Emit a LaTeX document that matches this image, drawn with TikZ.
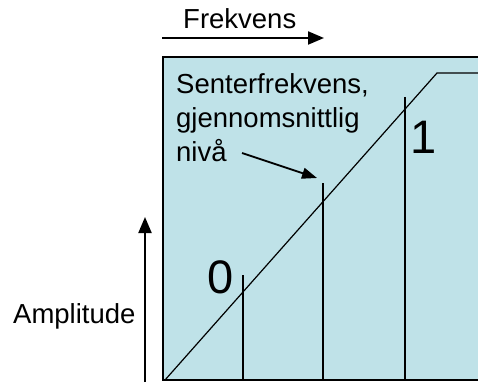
\documentclass[tikz,border=0pt]{standalone}
\usepackage{fontspec}
\setmainfont{Liberation Sans}
\usetikzlibrary{arrows.meta}
\definecolor{panel}{RGB}{191,226,232}
\tikzset{
  lbl/.style={inner sep=0pt, anchor=base west, font=\fontsize{27.5}{33}\selectfont},
  big/.style={inner sep=0pt, anchor=center, font=\fontsize{47}{50}\selectfont},
  thinline/.style={line width=1.6pt},
  arr/.style={line width=2pt, -{Triangle[length=16pt,width=13pt]}},
  ptr/.style={line width=1.8pt, -{Triangle[length=15pt,width=11pt]}}
}
\begin{document}
\begin{tikzpicture}[x=1pt,y=-1pt]
\useasboundingbox (0,0) rectangle (478,382);
\clip (0,0) rectangle (478,382);
% panel
\draw[fill=panel, line width=2pt] (163,57) rectangle (500,380);
% coordinates
\coordinate (d0) at (165,380);
\coordinate (d1) at (437,73);
\coordinate (d2) at (500,73);
\coordinate (a0) at (243,275); \coordinate (a1) at (243,380);
\coordinate (b0) at (323,183); \coordinate (b1) at (323,380);
\coordinate (c0) at (405,97);  \coordinate (c1) at (405,380);
\coordinate (f0) at (162,38);  \coordinate (f1) at (324,38);
\coordinate (v0) at (145,382); \coordinate (v1) at (145,217);
\coordinate (p0) at (242,153); \coordinate (p1) at (317,178);
% diagonal
\draw[line width=1.2pt] (d0) -- (d1) -- (d2);
% verticals
\draw[thinline] (a0) -- (a1);
\draw[thinline] (b0) -- (b1);
\draw[thinline] (c0) -- (c1);
% labels
\node[lbl] (frek) at (183,29) {Frekvens};
\node[lbl] (amp) at (13,323) {Amplitude};
\node[lbl] (t1) at (176,94) {Senterfrekvens,};
\node[lbl] (t2) at (176,128) {gjennomsnittlig};
\node[lbl] (t3) at (176,161) {nivå};
\node[big] (zero) at (221,277) {0};
\node[big] (one) at (424,137) {1};
% arrows
\draw[arr] (f0) -- (f1);
\draw[arr] (v0) -- (v1);
\draw[ptr] (p0) -- (p1);
\end{tikzpicture}
\end{document}
